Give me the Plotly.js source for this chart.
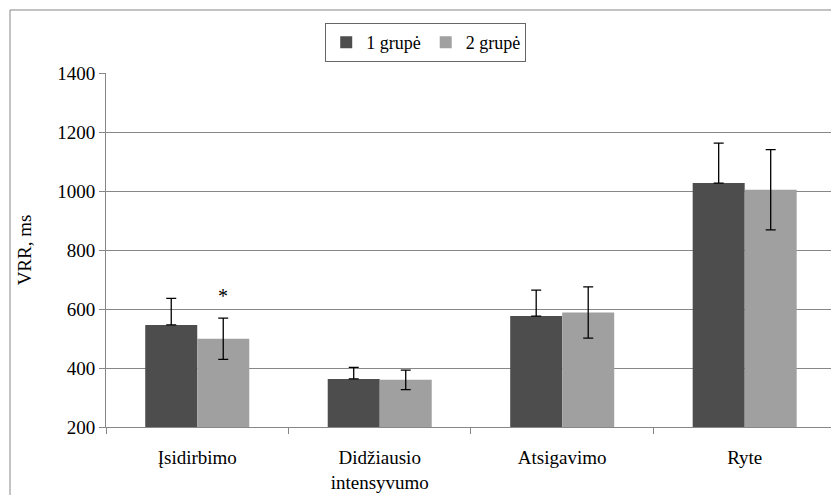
<!DOCTYPE html>
<html>
<head>
<meta charset="utf-8">
<script src="https://cdn.plot.ly/plotly-3.0.1.min.js"></script>
<style>
  html, body { margin: 0; padding: 0; background: #fff; }
  #chart { width: 831px; height: 495px; }
</style>
</head>
<body>
<div id="chart"></div>
<script>
// VRR (ms) by exercise phase for two groups, mean with SD
const categories = ['Įsidirbimo', 'Didžiausio<br>intensyvumo', 'Atsigavimo', 'Ryte'];
const seriesNames = ['1 grupė', '2 grupė'];
const group1 = [546, 363, 576, 1027];
const group1Sd = [90, 39, 88, 135];
const group2 = [499, 360, 588, 1004];
const group2Sd = [70, 33, 87, 136];
const starLabel = '*';          // significance mark over 2 grupė, Įsidirbimo
const yTicks = [200, 400, 600, 800, 1000, 1200, 1400];

const serif = '"Liberation Serif", "DejaVu Serif", serif';
const axisGray = '#878787';

const traces = [
  {
    type: 'bar', name: seriesNames[0], x: categories, y: group1,
    marker: { color: '#4d4d4d', line: { width: 0 } },
    error_y: { type: 'data', symmetric: false, array: group1Sd,
               arrayminus: group1Sd.map(() => 0),
               color: '#000', thickness: 1.3, width: 5 },
    hoverinfo: 'skip'
  },
  {
    type: 'bar', name: seriesNames[1], x: categories, y: group2,
    marker: { color: '#a0a0a0', line: { width: 0 } },
    error_y: { type: 'data', array: group2Sd,
               color: '#000', thickness: 1.3, width: 5 },
    hoverinfo: 'skip'
  }
];

const layout = {
  width: 831, height: 495,
  margin: { l: 106, r: 0, t: 73, b: 68 },
  paper_bgcolor: '#fff', plot_bgcolor: '#fff',
  font: { family: serif, size: 19, color: '#000' },
  barmode: 'group', bargap: 0.43, bargroupgap: 0,
  showlegend: true,
  legend: {
    orientation: 'h', x: 0.441, xanchor: 'center', y: 1.141, yanchor: 'top',
    bordercolor: '#666', borderwidth: 1, font: { family: serif, size: 18 },
    tracegroupgap: 0
  },
  xaxis: {
    type: 'category', range: [-0.5, 3.473],
    showline: true, linecolor: axisGray, linewidth: 1,
    ticks: 'outside', tickson: 'boundaries', ticklen: 6, tickcolor: axisGray,
    ticklabelstandoff: 13,
    showgrid: false, tickfont: { family: serif, size: 19 }, fixedrange: true
  },
  yaxis: {
    range: [200, 1400], tickvals: yTicks, ticktext: yTicks.map(String),
    showline: true, linecolor: axisGray, linewidth: 1,
    ticks: 'outside', ticklen: 6, tickcolor: axisGray,
    showgrid: true, gridcolor: axisGray, gridwidth: 1, zeroline: false,
    tickfont: { family: serif, size: 19 },
    title: { text: 'VRR, ms', font: { family: serif, size: 19 }, standoff: 20 },
    fixedrange: true
  },
  annotations: [{
    x: categories[0], y: group2[0] + group2Sd[0], xref: 'x', yref: 'y',
    text: starLabel, showarrow: false, xshift: 26, yanchor: 'bottom', yshift: 9,
    font: { family: serif, size: 20 }
  }],
  shapes: [
    // outer chart frame (left and top edges)
    { type: 'line', xref: 'paper', yref: 'paper', x0: -0.1324, x1: -0.1324, y0: 1.178, y1: -0.3,
      line: { color: axisGray, width: 1 } },
    { type: 'line', xref: 'paper', yref: 'paper', x0: -0.1324, x1: 1.05, y0: 1.178, y1: 1.178,
      line: { color: axisGray, width: 1 } }
  ]
};

Plotly.newPlot('chart', traces, layout, { displayModeBar: false, staticPlot: true });
</script>
</body>
</html>
